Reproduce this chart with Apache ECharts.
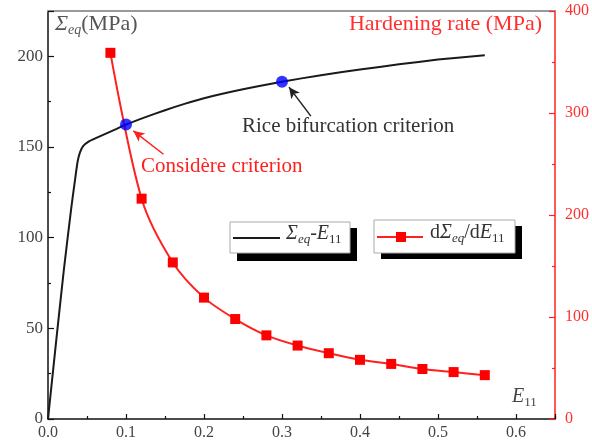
<!DOCTYPE html>
<html>
<head>
<meta charset="utf-8">
<script src="https://cdn.jsdelivr.net/npm/echarts@6/dist/echarts.min.js"></script>
<style>html,body{margin:0;padding:0;background:#fff}#c{width:592px;height:448px}</style>
</head>
<body>
<div id="c"></div>
<script>
// ---- data ----
const strainE11 = [0, 0.010, 0.020, 0.030, 0.035, 0.038, 0.041, 0.045, 0.052, 0.062, 0.075, 0.088, 0.100, 0.125, 0.150, 0.175, 0.200, 0.250, 0.300, 0.350, 0.400, 0.450, 0.500, 0.560];
const sigmaEq   = [0, 41, 81, 117, 133, 142, 147, 150.5, 153, 155, 157.5, 160, 162.4, 166.5, 170.3, 173.8, 176.9, 181.8, 186, 189.6, 192.7, 195.6, 198.2, 200.6];
const rateStrain    = [0.08, 0.12, 0.16, 0.20, 0.24, 0.28, 0.32, 0.36, 0.40, 0.44, 0.48, 0.52, 0.56];
const hardeningRate = [359, 216, 153.5, 119, 98, 82, 72, 64.5, 58, 54, 49, 46, 43];
const criticalStrain = [0.1, 0.3];
const criticalStress = [162.4, 186];
const xTickLabels = ['0.0', '0.1', '0.2', '0.3', '0.4', '0.5', '0.6'];
const leftTickLabels = ['0', '50', '100', '150', '200'];
const rightTickLabels = ['0', '100', '200', '300', '400'];

const FONT = "'Liberation Serif', 'Times New Roman', serif";
const chart = echarts.init(document.getElementById('c'), null, {renderer: 'canvas'});

const tickText = {fontFamily: FONT, fontSize: 16, color: '#444'};
const legRich = {
  s: {fontFamily: FONT, fontSize: 20, fontStyle: 'italic', fill: '#333', lineHeight: 24},
  n: {fontFamily: FONT, fontSize: 20, fill: '#333', lineHeight: 24},
  sub: {fontFamily: FONT, fontSize: 13, fontStyle: 'italic', fill: '#333', verticalAlign: 'bottom', lineHeight: 15},
  sub2: {fontFamily: FONT, fontSize: 13, fill: '#333', verticalAlign: 'bottom', lineHeight: 15}
};

const option = {
  animation: false,
  backgroundColor: '#fff',
  grid: {left: 48, right: 37, top: 11, bottom: 29, containLabel: false},
  xAxis: [{
    type: 'value', min: 0, max: 0.65, interval: 0.1, position: 'bottom',
    axisLine: {show: true, onZero: false, lineStyle: {color: '#111', width: 1.5}},
    axisTick: {show: true, inside: true, length: 5, lineStyle: {color: '#111', width: 1.2}},
    minorTick: {show: true, splitNumber: 2, length: 3, lineStyle: {color: '#111', width: 1.2}},
    splitLine: {show: false},
    axisLabel: Object.assign({}, tickText, {showMaxLabel: false, margin: 6,
      formatter: v => { const i = Math.round(v * 10); return Math.abs(v * 10 - i) < 1e-6 ? xTickLabels[i] : ''; }})
  }, {
    type: 'value', min: 0, max: 0.65, position: 'top',
    axisLine: {show: true, onZero: false, lineStyle: {color: '#999', width: 2}},
    axisTick: {show: false}, axisLabel: {show: false}, splitLine: {show: false}
  }],
  yAxis: [{
    type: 'value', min: 0, max: 225, interval: 50, position: 'left',
    axisLine: {show: true, onZero: false, lineStyle: {color: '#111', width: 1.5}},
    axisTick: {show: true, inside: true, length: 6, lineStyle: {color: '#111', width: 1.2}},
    minorTick: {show: true, splitNumber: 2, length: 3, lineStyle: {color: '#111', width: 1.2}},
    splitLine: {show: false},
    axisLabel: Object.assign({}, tickText, {fontSize: 17, showMaxLabel: false, margin: 5,
      formatter: v => { const i = Math.round(v / 50); return Math.abs(v - i * 50) < 1e-6 ? leftTickLabels[i] : ''; }})
  }, {
    type: 'value', min: 0, max: 400, interval: 100, position: 'right',
    axisLine: {show: true, onZero: false, lineStyle: {color: '#ff2020', width: 1.5}},
    axisTick: {show: true, inside: true, length: 6, lineStyle: {color: '#ff2020', width: 1.2}},
    minorTick: {show: true, splitNumber: 2, length: 3, lineStyle: {color: '#ff2020', width: 1.2}},
    splitLine: {show: false},
    axisLabel: Object.assign({}, tickText, {color: '#ff3030', margin: 10,
      formatter: v => rightTickLabels[Math.round(v / 100)]})
  }],
  series: [{
    name: 'sigma', type: 'line', xAxisIndex: 0, yAxisIndex: 0,
    data: strainE11.map((x, i) => [x, sigmaEq[i]]),
    smooth: 0.2, showSymbol: false, symbol: 'none',
    lineStyle: {color: '#1a1a1a', width: 2}, z: 3,
    markLine: {
      silent: true, symbol: ['none', 'arrow'], symbolSize: [8, 11],
      label: {show: false},
      lineStyle: {color: '#222', width: 1.5, type: 'solid'},
      data: [[{coord: [0.337, 167]}, {coord: [0.309, 183]}]]
    }
  }, {
    name: 'rate', type: 'line', xAxisIndex: 0, yAxisIndex: 1,
    data: rateStrain.map((x, i) => [x, hardeningRate[i]]),
    smooth: 0.3, symbol: 'rect', symbolSize: 10,
    itemStyle: {color: '#ff0000'},
    lineStyle: {color: '#ff2020', width: 2}, z: 2
  }, {
    name: 'critical', type: 'scatter', xAxisIndex: 0, yAxisIndex: 0,
    data: criticalStrain.map((x, i) => [x, criticalStress[i]]),
    symbol: 'circle', symbolSize: 12, itemStyle: {color: '#0000ff'}, z: 5,
    markLine: {
      silent: true, symbol: ['none', 'arrow'], symbolSize: [8, 11],
      label: {show: false},
      lineStyle: {color: '#ff2020', width: 1.5, type: 'solid'},
      data: [[{coord: [0.148, 146]}, {coord: [0.1094, 158.9]}]]
    }
  }],
  graphic: [
    // axis titles
    {type: 'text', left: 55, top: 13, z: 10, style: {
      text: '{s|Σ}{sub|eq}{n|(MPa)}', rich: {
        s: {fontFamily: FONT, fontSize: 22, fontStyle: 'italic', fill: '#555', lineHeight: 26},
        sub: {fontFamily: FONT, fontSize: 14, fontStyle: 'italic', fill: '#555', verticalAlign: 'bottom', lineHeight: 16},
        n: {fontFamily: FONT, fontSize: 22, fill: '#555', lineHeight: 26}
      }}},
    {type: 'text', right: 50, top: 13, z: 10, style: {
      text: 'Hardening rate (MPa)', fill: '#ff3030', font: '22px ' + FONT}},
    {type: 'text', left: 512, top: 387, z: 10, style: {
      text: '{s|E}{sub|11}', rich: {
        s: {fontFamily: FONT, fontSize: 20, fontStyle: 'italic', fill: '#444', lineHeight: 24},
        sub: {fontFamily: FONT, fontSize: 13, fill: '#444', verticalAlign: 'bottom', lineHeight: 15}
      }}},
    // annotations
    {type: 'text', left: 242, top: 116, z: 10, style: {
      text: 'Rice bifurcation criterion', fill: '#333', font: '21px ' + FONT}},
    {type: 'text', left: 141, top: 156, z: 10, style: {
      text: 'Considère criterion', fill: '#ff2020', font: '21px ' + FONT}},
    // legend 1
    {type: 'rect', shape: {x: 237, y: 228, width: 120, height: 33}, style: {fill: '#000'}, z: 10},
    {type: 'rect', shape: {x: 230, y: 222, width: 120, height: 31}, style: {fill: '#fff', stroke: '#aaa', lineWidth: 1}, z: 11},
    {type: 'line', shape: {x1: 233, y1: 238, x2: 280, y2: 238}, style: {stroke: '#1a1a1a', lineWidth: 2}, z: 12},
    {type: 'text', left: 286, top: 224, z: 12, style: {
      text: '{s|Σ}{sub|eq}{n|-}{s|E}{sub2|11}', rich: legRich}},
    // legend 2
    {type: 'rect', shape: {x: 381, y: 226, width: 141, height: 33}, style: {fill: '#000'}, z: 10},
    {type: 'rect', shape: {x: 374, y: 220, width: 141, height: 33}, style: {fill: '#fff', stroke: '#aaa', lineWidth: 1}, z: 11},
    {type: 'line', shape: {x1: 377, y1: 237, x2: 423, y2: 237}, style: {stroke: '#ff2020', lineWidth: 2}, z: 12},
    {type: 'rect', shape: {x: 396, y: 232, width: 10, height: 10}, style: {fill: '#ff0000'}, z: 13},
    {type: 'text', left: 430, top: 223, z: 12, style: {
      text: '{n|d}{s|Σ}{sub|eq}{n|/d}{s|E}{sub2|11}', rich: legRich}}
  ]
};
chart.setOption(option);
</script>
</body>
</html>
